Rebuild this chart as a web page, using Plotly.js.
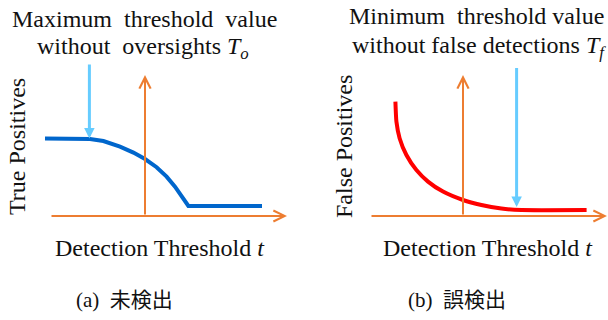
<!DOCTYPE html>
<html>
<head>
<meta charset="utf-8">
<script src="https://cdn.plot.ly/plotly-3.0.1.min.js"></script>
<style>html,body{margin:0;padding:0;background:#fff;}#chart{width:608px;height:320px;}</style>
</head>
<body>
<div id="chart"></div>
<script>
// ---- data (threshold t, counts in arbitrary units) ----
const tpThreshold = [-5, -3.75, -2.75, -2.08, -1.25, -0.58, 0, 0.58, 1.08, 1.5, 1.83, 2.17, 5.85];
const tpCount     = [3.87, 3.87, 3.85, 3.75, 3.47, 3.17, 2.85, 2.44, 1.97, 1.47, 1.0, 0.5, 0.5];
const fpThreshold = [-3.38, -3.33, -3.17, -2.83, -2.33, -1.75, -1.0, 0, 0.92, 1.92, 2.92, 6.18];
const fpCount     = [5.72, 4.72, 3.89, 3.05, 2.3, 1.72, 1.22, 0.8, 0.55, 0.37, 0.3, 0.3];

// markers T_o and T_f (threshold, arrow from / to count)
const toThreshold = -2.78;
const toArrowSpan = [7.65, 3.88];
const tfThreshold = 2.68;
const tfArrowSpan = [7.47, 0.45];

// orange axis extents
const leftAxisT  = [-4.75, 7.1];
const rightAxisT = [-4.65, 7.2];
const axisCountTop = 7.05;

// texts
const titleA = ['Maximum  threshold  value', 'without  oversights <i>T</i><sub><i>o</i></sub>'];
const titleB = ['Minimum  threshold value', 'without false detections <i>T</i><sub><i>f</i></sub>'];
const yLabelA = 'True Positives';
const yLabelB = 'False Positives';
const xLabel = 'Detection Threshold <i>t</i>';
const captionA = '(a)  未検出';
const captionB = '(b)  誤検出';

// ---- styling ----
const W = 608, H = 320;
const FONT = "'Liberation Serif', 'Times New Roman', 'Noto Sans CJK JP', serif";
const ORANGE = '#ED7D31', CYAN = '#66CCFF', BLUE = '#0066CC', RED = '#FF0000';
const px = v => v / W;
const py = v => 1 - v / H;

const traces = [
  {x: tpThreshold, y: tpCount, xaxis: 'x', yaxis: 'y', mode: 'lines',
   line: {color: BLUE, width: 4, shape: 'linear'}, hoverinfo: 'skip'},
  {x: fpThreshold, y: fpCount, xaxis: 'x2', yaxis: 'y2', mode: 'lines',
   line: {color: RED, width: 4, shape: 'spline', smoothing: 0.5}, hoverinfo: 'skip'}
];

function arrow(xr, yr, x, y, ax, ay, color, head, width, size) {
  return {xref: xr, yref: yr, axref: xr, ayref: yr, x: x, y: y, ax: ax, ay: ay,
    text: '', showarrow: true, arrowhead: head, arrowwidth: width, arrowsize: size,
    arrowcolor: color, standoff: 0, startstandoff: 0};
}
function label(text, x, y, size, angle) {
  return {xref: 'paper', yref: 'paper', x: px(x), y: py(y), xanchor: 'center', yanchor: 'middle',
    text: text, showarrow: false, textangle: angle || 0, font: {family: FONT, size: size, color: '#111'}};
}

const annotations = [
  // orange axes, left
  arrow('x', 'y', leftAxisT[1], 0, leftAxisT[0], 0, ORANGE, 5, 2, 1.1),
  arrow('x', 'y', 0, axisCountTop, 0, 0, ORANGE, 5, 2, 1.1),
  // orange axes, right
  arrow('x2', 'y2', rightAxisT[1], 0, rightAxisT[0], 0, ORANGE, 5, 2, 1.1),
  arrow('x2', 'y2', 0, axisCountTop, 0, 0, ORANGE, 5, 2, 1.1),
  // cyan markers
  arrow('x', 'y', toThreshold, toArrowSpan[1], toThreshold, toArrowSpan[0], CYAN, 2, 3, 0.7),
  arrow('x2', 'y2', tfThreshold, tfArrowSpan[1], tfThreshold, tfArrowSpan[0], CYAN, 2, 3, 0.7),
  // titles
  label(titleA[0], 144, 19, 24),
  label(titleA[1], 143, 48, 24),
  label(titleB[0], 476, 16, 24),
  label(titleB[1], 479, 47, 24),
  // axis labels
  label(yLabelA, 17, 147, 24, -90),
  label(yLabelB, 344, 147, 24, -90),
  label(xLabel, 160, 248, 24),
  label(xLabel, 488, 248, 24),
  // captions
  label(captionA, 124, 300, 21),
  label(captionB, 457, 300, 21)
];

const hidden = {visible: false, fixedrange: true};
const layout = {
  width: W, height: H, margin: {l: 0, r: 0, t: 0, b: 0},
  paper_bgcolor: '#fff', plot_bgcolor: 'rgba(0,0,0,0)', showlegend: false,
  xaxis:  Object.assign({domain: [px(40), px(295)], range: [-5.25, 7.5]}, hidden),
  yaxis:  Object.assign({domain: [py(226), py(60)], range: [-0.5, 7.8]}, hidden),
  xaxis2: Object.assign({domain: [px(358), px(608)], range: [-5.25, 7.25], anchor: 'y2'}, hidden),
  yaxis2: Object.assign({domain: [py(226), py(60)], range: [-0.5, 7.8], anchor: 'x2'}, hidden),
  annotations: annotations
};

Plotly.newPlot('chart', traces, layout, {staticPlot: true, displayModeBar: false});
</script>
</body>
</html>
